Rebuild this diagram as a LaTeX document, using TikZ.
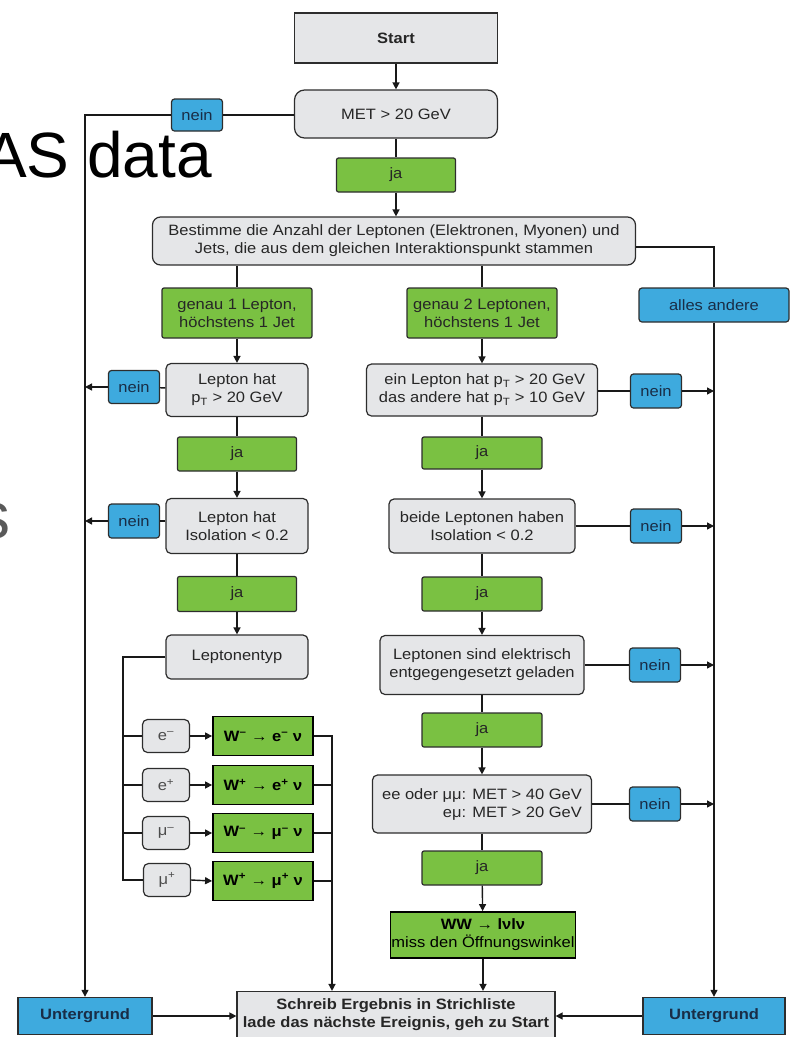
\documentclass[tikz,border=0pt]{standalone}
\usepackage{fontspec}
\setmainfont[FakeStretch=1.1]{Liberation Sans}
\newfontfamily\slidefont{Liberation Sans}
\usetikzlibrary{arrows.meta}

\definecolor{jagreen}{RGB}{122,193,66}
\definecolor{neinblue}{RGB}{62,170,222}
\definecolor{boxgray}{RGB}{229,230,232}
\definecolor{edgegray}{RGB}{45,45,45}
\definecolor{bluetext}{RGB}{25,45,70}

\tikzset{
  every node/.style={font=\fontsize{15}{18}\selectfont},
  askbox/.style={draw=edgegray, fill=boxgray, line width=1.2pt, rounded corners=5pt,
    align=center, text=black!85, inner sep=2pt},
  jabox/.style={draw=edgegray, fill=jagreen, line width=1.2pt, rounded corners=2pt,
    align=center, text=black!85, minimum width=119pt, minimum height=34pt, inner sep=2pt},
  neinbox/.style={draw=edgegray, fill=neinblue, line width=1.2pt, rounded corners=3pt,
    text=bluetext, minimum width=51pt, minimum height=33pt, inner sep=1pt},
  lepbox/.style={askbox, minimum width=47pt, minimum height=33pt, text=black!70},
  decaybox/.style={draw=black, fill=jagreen, line width=1.8pt, align=center,
    font=\fontsize{15}{18}\selectfont\bfseries, minimum width=100pt, minimum height=39pt, inner sep=1pt},
  backbox/.style={draw=edgegray, fill=neinblue, line width=1.4pt, text=bluetext,
    font=\fontsize{15}{18}\selectfont\bfseries, minimum height=37pt},
  link/.style={line width=1.4pt, draw=black!90},
  linkto/.style={link, -{Triangle[length=7pt,width=7pt]}},
}

\begin{document}
\begin{tikzpicture}[x=1pt, y=-1pt]
  \useasboundingbox (0,0) rectangle (794,1037);

  % slide text behind the chart
  \node[anchor=base east, inner sep=0pt, font=\slidefont\fontsize{64}{64}\selectfont] (slide) at (212,177) {AS data};
  \node[anchor=base east, inner sep=0pt, text=black!65, font=\slidefont\fontsize{66}{66}\selectfont] (slides) at (11,538) {s};

  % top
  \node[askbox, rounded corners=0pt, minimum width=203pt, minimum height=50pt,
        font=\fontsize{15}{18}\selectfont\bfseries] (start) at (396,38) {Start};
  \node[askbox, rounded corners=10pt, minimum width=203pt, minimum height=48pt] (met) at (396,114) {MET > 20 GeV};
  \node[neinbox, minimum height=32pt] (nein0) at (197,115) {nein};
  \node[jabox] (ja0) at (396,175) {ja};
  \node[askbox, rounded corners=8pt, minimum width=483pt, minimum height=48pt] (count) at (394,241)
    {Bestimme die Anzahl der Leptonen (Elektronen, Myonen) und\\Jets, die aus dem gleichen Interaktionspunkt stammen};

  \node[jabox, minimum width=150pt, minimum height=50pt] (one) at (237,313) {genau 1 Lepton,\\höchstens 1 Jet};
  \node[jabox, minimum width=150pt, minimum height=50pt] (two) at (482,313) {genau 2 Leptonen,\\höchstens 1 Jet};
  \node[neinbox, minimum width=150pt, minimum height=34pt] (other) at (714,305) {alles andere};

  % one lepton
  \node[askbox, minimum width=142pt, minimum height=53pt] (onept) at (237,390) {Lepton hat\\p\textsubscript{T} > 20 GeV};
  \node[neinbox] (nein1) at (134,387) {nein};
  \node[jabox] (ja1) at (237,454) {ja};
  \node[askbox, minimum width=142pt, minimum height=55pt] (oneiso) at (237,526) {Lepton hat\\Isolation < 0.2};
  \node[neinbox, minimum height=34pt] (nein2) at (134,521) {nein};
  \node[jabox, minimum height=35pt] (ja2) at (237,594) {ja};
  \node[askbox, minimum width=142pt, minimum height=44pt] (ltyp) at (237,657) {Leptonentyp};

  \coordinate (lbus) at (123,0);
  \coordinate (rbus) at (332,0);
  \node[lepbox] (em) at (166,736) {e\textsuperscript{–}};
  \node[lepbox] (ep) at (166,785) {e\textsuperscript{+}};
  \node[lepbox] (mum) at (166,833) {μ\textsuperscript{–}};
  \node[lepbox] (mup) at (167,880) {μ\textsuperscript{+}};
  \node[decaybox] (wem) at (263,736) {W\textsuperscript{–} → e\textsuperscript{–} ν};
  \node[decaybox] (wep) at (263,785) {W\textsuperscript{+} → e\textsuperscript{+} ν};
  \node[decaybox] (wmum) at (263,833) {W\textsuperscript{–} → μ\textsuperscript{–} ν};
  \node[decaybox] (wmup) at (263,881) {W\textsuperscript{+} → μ\textsuperscript{+} ν};

  % two leptons
  \node[askbox, align=right, minimum width=231pt, minimum height=52pt] (twopt) at (482,390)
    {ein Lepton hat p\textsubscript{T} > 20 GeV\\das andere hat p\textsubscript{T} > 10 GeV};
  \node[neinbox, minimum height=34pt] (nein3) at (656,391) {nein};
  \node[jabox, minimum width=120pt, minimum height=32pt] (ja3) at (482,453) {ja};
  \node[askbox, minimum width=186pt, minimum height=54pt] (twoiso) at (482,526) {beide Leptonen haben\\Isolation < 0.2};
  \node[neinbox, minimum height=34pt] (nein4) at (656,526) {nein};
  \node[jabox, minimum width=120pt] (ja4) at (482,594) {ja};
  \node[askbox, minimum width=204pt, minimum height=59pt] (charge) at (482,665)
    {Leptonen sind elektrisch\\entgegengesetzt geladen};
  \node[neinbox, minimum height=34pt] (nein5) at (655,665) {nein};
  \node[jabox, minimum width=120pt] (ja5) at (482,730) {ja};
  \node[askbox, align=right, minimum width=219pt, minimum height=58pt] (mettwo) at (482,804)
    {ee oder μμ: MET > 40 GeV\\eμ: MET > 20 GeV};
  \node[neinbox, minimum height=34pt] (nein6) at (655,804) {nein};
  \node[jabox, minimum width=120pt] (ja6) at (482,868) {ja};
  \node[decaybox, font=\fontsize{15}{18}\selectfont, minimum width=177pt, minimum height=46pt] (ww) at (483,935)
    {\textbf{WW → lνlν}\\miss den Öffnungswinkel};

  % bottom
  \node[askbox, rounded corners=0pt, minimum width=318pt, minimum height=47pt,
        font=\fontsize{15}{18}\selectfont\bfseries] (write) at (396,1015)
    {Schreib Ergebnis in Strichliste\\lade das nächste Ereignis, geh zu Start};
  \node[backbox, minimum width=134pt] (bgleft) at (85,1016) {Untergrund};
  \node[backbox, minimum width=142pt] (bgright) at (714,1016) {Untergrund};

  % connectors
  \draw[linkto] (start) -- (met);
  \draw[link] (met) -- (ja0);
  \draw[linkto] (ja0.south) -- (ja0.south |- count.north);
  \draw[link] (nein0.east) -- (nein0.east -| met.west);
  \draw[linkto] (nein0.west) -| (bgleft.north);
  \draw[link] (count.east |- 0,247) -| (other.north);
  \draw[link] (one.north |- count.south) -- (one.north);
  \draw[link] (two.north |- count.south) -- (two.north);
  \draw[linkto] (other.south) -- (bgright.north);

  \draw[linkto] (one) -- (onept);
  \draw[link] (onept) -- (nein1);
  \draw[linkto] (nein1.west) -- (nein1.west -| bgleft.north);
  \draw[link] (onept) -- (ja1);
  \draw[linkto] (ja1) -- (oneiso);
  \draw[link] (oneiso.west |- nein2.east) -- (nein2.east);
  \draw[linkto] (nein2.west) -- (nein2.west -| bgleft.north);
  \draw[link] (oneiso) -- (ja2);
  \draw[linkto] (ja2) -- (ltyp);

  \draw[link] (ltyp.west) -- (ltyp.west -| lbus) |- (mup.west);
  \foreach \lep/\w in {em/wem, ep/wep, mum/wmum} {
    \draw[link] (\lep.west -| lbus) -- (\lep.west);
  }
  \foreach \lep/\w in {em/wem, ep/wep, mum/wmum, mup/wmup} {
    \draw[linkto] (\lep.east) -- (\w.west);
  }
  \draw[linkto] (wem.east) -- (wem.east -| rbus) -- (rbus |- write.north);
  \foreach \w in {wep, wmum, wmup} {
    \draw[link] (\w.east) -- (\w.east -| rbus);
  }

  \draw[linkto] (two) -- (twopt);
  \draw[link] (twopt.east |- nein3.west) -- (nein3.west);
  \draw[linkto] (nein3.east) -- (nein3.east -| other.south);
  \draw[link] (twopt) -- (ja3);
  \draw[linkto] (ja3) -- (twoiso);
  \draw[link] (twoiso) -- (nein4);
  \draw[linkto] (nein4.east) -- (nein4.east -| other.south);
  \draw[link] (twoiso) -- (ja4);
  \draw[linkto] (ja4) -- (charge);
  \draw[link] (charge) -- (nein5);
  \draw[linkto] (nein5.east) -- (nein5.east -| other.south);
  \draw[link] (charge) -- (ja5);
  \draw[linkto] (ja5) -- (mettwo);
  \draw[link] (mettwo) -- (nein6);
  \draw[linkto] (nein6.east) -- (nein6.east -| other.south);
  \draw[link] (mettwo) -- (ja6);
  \draw[linkto] (ja6) -- (ww);
  \draw[linkto] (ww.south) -- (ww.south |- write.north);

  \draw[linkto] (bgleft) -- (write.west |- bgleft.east);
  \draw[linkto] (bgright) -- (write.east |- bgright.west);
\end{tikzpicture}
\end{document}
